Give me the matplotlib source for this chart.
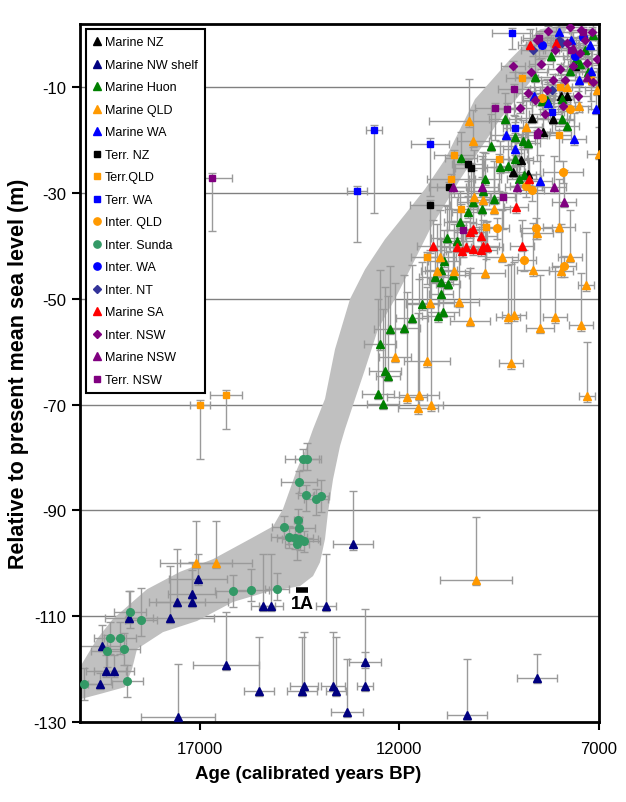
import matplotlib
matplotlib.use("Agg")
import matplotlib.pyplot as plt

plt.rcParams['font.family'] = ['Liberation Sans', 'DejaVu Sans']
plt.rcParams['axes.unicode_minus'] = False

# each row: age, rsl, age_err, rsl_err_below, rsl_err_above
marine_nz = [
    [8953, -23.8, 300, 1, 5], [9153, -26.0, 300, 1, 5], [8778, -26.4, 300, 1, 5],
    [7951, -11.7, 300, 1, 5], [7801, -11.7, 300, 1, 5], [8678, -15.7, 400, 1, 5],
    [8152, -16.0, 400, 1, 5], [8402, -18.5, 400, 1, 5], [7600, -6.0, 300, 1, 4],
]
marine_nw_shelf = [
    [17044, -103.0, 730, 1, 4.8], [17195, -105.8, 600, 1, 6], [17195, -107.3, 900, 1, 6],
    [17570, -107.3, 700, 1, 10], [17745, -110.3, 1100, 1, 9.8], [18773, -110.3, 600, 1, 5],
    [19449, -115.6, 600, 1, 4], [19349, -120.4, 500, 1, 3], [19148, -120.4, 500, 1, 3],
    [19499, -122.8, 300, 1, 2], [15416, -108.1, 300, 1, 9.9], [15215, -108.1, 300, 1, 9.9],
    [13838, -108.1, 250, 1, 9.9], [16343, -119.2, 826, 1, 10], [17545, -129.1, 925, 1, 10.1],
    [15516, -124.1, 375, 1, 10.2], [14439, -124.1, 375, 1, 10.2], [14389, -123.2, 350, 1, 10.2],
    [13662, -123.2, 300, 1, 10.2], [13587, -124.1, 250, 1, 10.2], [13312, -128.1, 400, 1, 10],
    [12861, -123.2, 200, 1, 14.6], [12861, -118.7, 400, 1, 2], [13161, -96.4, 500, 1, 10.1],
    [10306, -128.7, 500, 1, 10.6], [8553, -121.7, 500, 1, 4.6],
]
marine_huon = [
    [10456, -23.4, 400, 1, 5], [9479, -25.1, 400, 1, 5], [9278, -24.9, 300, 1, 5],
    [9103, -23.6, 300, 1, 5], [9855, -27.4, 400, 1, 5], [9905, -29.6, 400, 1, 6],
    [10155, -31.7, 400, 1, 6], [9930, -32.9, 300, 1, 6], [9630, -31.0, 300, 1, 6],
    [10281, -33.6, 400, 1, 6], [10481, -35.5, 400, 1, 6], [10807, -38.5, 400, 1, 6],
    [10556, -39.1, 400, 1, 6], [10882, -42.9, 400, 1, 6], [10957, -44.6, 400, 1, 6],
    [10657, -45.5, 400, 1, 6], [11107, -45.9, 400, 1, 6], [10957, -46.8, 300, 1, 6],
    [10782, -47.2, 300, 1, 6], [10957, -49.1, 300, 1, 6], [11433, -51.0, 400, 1, 8],
    [10907, -52.5, 400, 1, 8], [11032, -53.3, 400, 1, 8], [11684, -53.6, 400, 1, 10],
    [11884, -55.5, 400, 1, 10], [9003, -27.4, 300, 1, 5], [8878, -26.6, 300, 1, 5],
    [12235, -55.7, 400, 1, 12], [12485, -58.6, 400, 1, 14], [12360, -63.7, 400, 1, 16],
    [12535, -68.0, 400, 1, 18], [12410, -69.9, 400, 1, 18], [12285, -64.5, 300, 1, 15],
    [7575, -4.7, 300, 1, 4], [7475, -5.6, 300, 1, 4], [7150, 0.0, 300, 1, 3],
    [7275, -7.1, 300, 1, 4], [7725, -6.9, 300, 1, 4], [7926, -12.2, 300, 1, 4],
    [8302, -12.4, 300, 1, 4], [8427, -12.6, 300, 1, 4], [7926, -16.0, 300, 1, 4],
    [7801, -17.2, 300, 1, 4], [8903, -20.2, 300, 1, 4], [8778, -20.5, 300, 1, 4],
    [9103, -19.4, 300, 1, 4], [8200, -4.0, 400, 1, 4], [7350, -3.0, 300, 1, 3],
    [8600, -8.0, 500, 1, 5], [9350, -16.0, 400, 1, 5], [9700, -21.0, 500, 1, 6],
]
marine_qld = [
    [17094, -99.9, 900, 1, 8], [16593, -99.9, 900, 1, 8], [10080, -103.1, 900, 1, 11.8],
    [7300, -68.4, 200, 1, 10.2], [7325, -47.4, 200, 1, 10], [7450, -55.0, 300, 1, 10],
    [8101, -53.5, 300, 1, 9.5], [8477, -55.4, 350, 1, 10], [9128, -53.1, 300, 1, 10],
    [9278, -53.5, 300, 1, 10], [9203, -62.2, 300, 1, 18.8], [10231, -54.2, 500, 1, 10],
    [10506, -50.6, 500, 1, 10], [11232, -50.8, 600, 1, 10], [11308, -61.8, 580, 1, 14],
    [11809, -68.6, 500, 1, 20], [11508, -68.2, 500, 1, 22], [11533, -70.7, 500, 1, 18],
    [11207, -70.1, 300, 1, 24], [9855, -45.0, 500, 1, 9], [9429, -42.1, 400, 1, 9],
    [8653, -44.6, 400, 1, 9], [7951, -44.8, 300, 1, 9], [7725, -42.1, 300, 1, 9],
    [8001, -36.3, 400, 1, 9], [8553, -37.6, 400, 1, 9], [9630, -32.9, 400, 1, 9],
    [10130, -30.8, 400, 1, 9], [9905, -31.3, 400, 1, 9], [10982, -42.1, 400, 1, 9],
    [11057, -44.8, 400, 1, 9], [10632, -44.8, 400, 1, 9], [7000, -22.5, 300, 1, 5],
    [10256, -16.4, 1000, 1, 8], [10155, -20.2, 400, 1, 6], [8828, -17.5, 400, 1, 5],
    [7175, -8.5, 300, 1, 4], [7050, -10.4, 300, 1, 4], [7500, -13.6, 300, 1, 4],
    [7800, -10.0, 300, 1, 4], [12100, -61.0, 400, 1, 14],
]
marine_wa = [
    [9329, -19.0, 400, 1, 5], [8477, -27.7, 300, 1, 5], [7625, -19.8, 300, 1, 5],
    [7075, -14.0, 200, 1, 5], [7500, -8.5, 300, 1, 4], [7200, -6.9, 300, 1, 4],
    [8627, -11.7, 300, 1, 4], [8002, 0.4, 300, 1, 3], [7225, -2.0, 300, 1, 3],
    [9103, -21.7, 300, 1, 4], [8277, -13.0, 300, 1, 4], [7700, -1.0, 300, 1, 3],
]
terr_nz = [
    [10281, -24.5, 400, 6, 1], [10206, -25.3, 400, 6, 1],
    [10757, -28.9, 500, 8, 1], [11233, -32.3, 500, 9, 1],
]
terr_qld = [
    [16994, -70.1, 250, 10.2, 1], [16343, -68.2, 400, 6.4, 1], [10632, -22.8, 500, 8, 1],
    [9504, -23.6, 400, 6, 1], [10707, -27.3, 600, 8, 1], [9830, -36.4, 400, 6, 1],
    [11308, -42.1, 400, 5, 1], [10456, -33.0, 400, 6, 1], [8002, -19.0, 300, 5, 1],
    [8928, -8.3, 400, 5, 1], [7200, -8.5, 300, 4, 1], [7976, -10.0, 300, 4, 1],
]
terr_wa = [
    [9178, 0.3, 500, 3, 1], [11233, -20.6, 475, 10, 1], [12636, -18.1, 200, 15.7, 1],
    [13061, -29.6, 250, 9.7, 1], [8177, -14.7, 300, 4, 1], [9103, -17.6, 300, 4, 1],
]
inter_qld = [
    [7901, -26.0, 500, 2, 2], [8828, -28.7, 400, 2, 2], [8678, -29.4, 300, 2, 2],
    [8578, -36.6, 400, 2, 2], [9554, -36.6, 300, 2, 2], [8878, -42.7, 300, 2, 2],
    [7876, -43.8, 300, 2, 2], [7725, -14.1, 300, 2, 2], [8427, -12.0, 300, 2, 2],
]
inter_sunda = [
    [14414, -80.3, 450, 2, 2], [14314, -80.3, 300, 2, 3], [14514, -84.6, 450, 2, 2],
    [14339, -87.1, 200, 3, 2], [14088, -87.9, 300, 3, 2], [13963, -87.3, 200, 3, 3],
    [14539, -91.8, 100, 3, 2], [14890, -93.1, 300, 2, 2], [14514, -93.3, 400, 2, 2],
    [14765, -95.0, 450, 2, 2], [14615, -95.2, 450, 2, 2], [14489, -95.4, 450, 2, 2],
    [14389, -95.8, 400, 2, 2], [14564, -96.4, 300, 3, 2], [15065, -104.9, 300, 2, 3],
    [15716, -105.1, 450, 2, 4], [16167, -105.2, 450, 3, 3], [18748, -109.2, 400, 3, 4],
    [18472, -110.7, 400, 3, 6], [19249, -114.1, 400, 3, 3], [18998, -114.1, 400, 3, 3],
    [19324, -116.6, 400, 3, 3], [18898, -116.2, 400, 3, 3], [18823, -122.3, 400, 3, 3],
    [19900, -122.8, 400, 3, 3],
]
inter_wa = [[8427, -2.0, 400, 1, 1], [7400, -0.5, 300, 1, 1], [7600, -4.0, 300, 1, 1]]
inter_nt = [[8002, -1.0, 300, 1, 1], [7926, -1.5, 300, 1, 1], [8177, -10.4, 300, 1, 1], [8652, -3.0, 300, 1, 1]]
marine_sa = [
    [8753, -27.4, 300, 1, 4], [9078, -32.7, 300, 1, 4], [10155, -36.8, 400, 1, 5],
    [10231, -37.4, 400, 1, 5], [9955, -38.1, 400, 1, 5], [10556, -40.2, 400, 1, 5],
    [10331, -40.2, 400, 1, 5], [10431, -41.0, 400, 1, 5], [10155, -40.6, 400, 1, 5],
    [9955, -40.8, 400, 1, 5], [9905, -40.0, 400, 1, 5], [9805, -40.2, 400, 1, 5],
    [8928, -40.0, 300, 1, 5], [11157, -40.0, 400, 1, 5], [8728, -2.0, 300, 1, 3],
    [8077, -1.5, 300, 1, 3],
]
inter_nsw = [
    [8277, 0.6, 300, 1, 1], [7801, -1.5, 300, 1, 1], [7475, -3.4, 300, 1, 1],
    [7300, -5.3, 300, 1, 1], [7976, -6.6, 300, 1, 1], [8302, -10.4, 300, 1, 1],
    [8152, -8.5, 300, 1, 1], [8778, -11.0, 300, 1, 1], [8603, -12.3, 300, 1, 1],
    [8978, -13.8, 300, 1, 1], [8527, -18.5, 300, 1, 1], [7525, -11.7, 300, 1, 1],
    [7050, -4.7, 300, 1, 1], [7175, 0.4, 300, 1, 1], [7725, 1.5, 300, 1, 1],
    [8100, -3.0, 300, 1, 1], [7650, -6.0, 300, 1, 1], [8450, -5.5, 300, 1, 1],
    [7900, -13.5, 300, 1, 1], [7350, -1.0, 300, 1, 1], [9150, -6.0, 300, 1, 1],
    [7850, -8.5, 300, 1, 1], [8550, -1.0, 400, 1, 1], [7450, 0.8, 300, 1, 1],
    [8700, -7.0, 400, 1, 1], [7150, -9.0, 300, 1, 1], [8350, -15.0, 400, 1, 1],
]
marine_nsw = [
    [8127, -28.9, 300, 1, 6], [7876, -31.7, 300, 1, 6], [9053, -28.9, 300, 1, 6],
    [9930, -28.9, 400, 1, 6], [10657, -28.9, 400, 1, 6], [7300, -8.0, 300, 1, 4],
    [7650, -2.5, 300, 1, 3],
]
terr_nsw = [
    [16693, -27.2, 490, 10, 1], [9128, -10.3, 400, 5, 1], [9604, -13.9, 500, 6, 1],
    [9304, -14.0, 400, 5, 1], [8553, -19.0, 300, 5, 1], [9404, -30.8, 300, 6, 1],
    [10406, -37.0, 400, 5, 1], [8503, -0.7, 400, 4, 1], [7700, -3.0, 300, 4, 1],
    [7400, 0.5, 300, 4, 1],
]

# envelope band (age, rsl), traced round the outline
band_age = [20000, 19574, 19173, 18322, 17495, 16668, 15741, 15165, 14915, 14740, 14564,
            14314, 14163, 13863, 13612, 13236, 12860, 12360, 11859, 11358, 10857, 10481,
            10105, 9228, 8477, 7725, 8477, 9479, 10481, 11232, 11733, 12109, 12535, 12860,
            13110, 13361, 13487, 13662, 13787, 13863, 13988, 14163, 14489, 15316, 16167,
            17069, 17921, 18572, 18697, 18873, 19499, 20000]
band_rsl = [-119.6, -114.3, -110.5, -104.9, -101.6, -99.2, -95.4, -93.0, -89.7, -86.0, -82.2,
            -77.8, -74.6, -68.9, -59.5, -50.0, -44.4, -38.7, -34.0, -29.2, -23.6, -17.9,
            -12.2, -4.7, 1.0, 2.0, -6.6, -16.0, -27.4, -36.8, -44.4, -50.0, -55.7, -63.3,
            -68.9, -74.6, -77.8, -84.1, -90.3, -95.4, -99.8, -102.4, -104.3, -105.4, -107.3,
            -110.9, -113.0, -116.2, -120.0, -123.4, -124.7, -125.7]

series = [
    ("Marine NZ", marine_nz, "^", "black"),
    ("Marine NW shelf", marine_nw_shelf, "^", "#000080"),
    ("Marine Huon", marine_huon, "^", "#008000"),
    ("Marine QLD", marine_qld, "^", "#FF9900"),
    ("Marine WA", marine_wa, "^", "#0000FF"),
    ("Terr. NZ", terr_nz, "s", "black"),
    ("Terr.QLD", terr_qld, "s", "#FF9900"),
    ("Terr. WA", terr_wa, "s", "#0000FF"),
    ("Inter. QLD", inter_qld, "o", "#FF9900"),
    ("Inter. Sunda", inter_sunda, "o", "#339966"),
    ("Inter. WA", inter_wa, "o", "#0000FF"),
    ("Inter. NT", inter_nt, "D", "#333399"),
    ("Marine SA", marine_sa, "^", "#FF0000"),
    ("Inter. NSW", inter_nsw, "D", "#800080"),
    ("Marine NSW", marine_nsw, "^", "#800080"),
    ("Terr. NSW", terr_nsw, "s", "#800080"),
]
sizes = {"^": 6, "s": 5, "o": 5.5, "D": 4}

fig = plt.figure(figsize=(6.26, 8.03), dpi=100)
ax = fig.add_axes([80/626, 80/803, 519/626, 698/803])

ax.fill(band_age, band_rsl, color="#c0c0c0", lw=0, zorder=1)

for name, rows, m, c in series:
    x = [r[0] for r in rows]
    y = [r[1] for r in rows]
    xe = [r[2] for r in rows]
    ye = [[r[3] for r in rows], [r[4] for r in rows]]
    ax.errorbar(x, y, xerr=xe, yerr=ye, fmt="none", ecolor="#9a9a9a",
                elinewidth=1, capsize=3, capthick=1, zorder=2)

handles = []
for name, rows, m, c in series:
    x = [r[0] for r in rows]
    y = [r[1] for r in rows]
    h, = ax.plot(x, y, m, ls="none", color=c, ms=sizes[m], mec=c, label=name, zorder=3)
    handles.append(h)

# "1A" marker
ax.plot([14589, 14289], [-105.0, -105.0], color="black", lw=4, solid_capstyle="butt", zorder=4)
ax.text(14439, -107.6, "1A", ha="center", va="center", fontsize=13, fontweight="bold", zorder=4)

ax.set_xlim(20000, 7000)
ax.set_ylim(-130, 2)
ax.set_xticks([17000, 12000, 7000])
ax.set_yticks(range(-130, 0, 20))
for yv in range(-110, 0, 20):
    ax.axhline(yv, color="#808080", lw=1, zorder=0)
ax.tick_params(axis="both", length=6, width=1.5, labelsize=12, direction="out")
ax.tick_params(axis="y", pad=4)
ax.tick_params(axis="x", pad=8)
for s in ax.spines.values():
    s.set_linewidth(2)

ax.set_xlabel("Age (calibrated years BP)", fontsize=13.5, fontweight="bold")
ax.xaxis.set_label_coords(0.44, -0.062)
ax.set_ylabel("Relative to present mean sea level (m)", fontsize=15.5, fontweight="bold")
ax.yaxis.set_label_coords(-0.098, 0.5)

leg = ax.legend(handles=handles, loc="upper left", bbox_to_anchor=(0.012, 0.993),
                fontsize=9, frameon=True, fancybox=False, framealpha=1,
                handlelength=0.6, handletextpad=0.3, labelspacing=0.84,
                borderpad=0.6, markerscale=0.95, borderaxespad=0)
leg.get_frame().set_edgecolor("black")
leg.get_frame().set_linewidth(1.5)

fig.savefig("out.png", dpi=100)
